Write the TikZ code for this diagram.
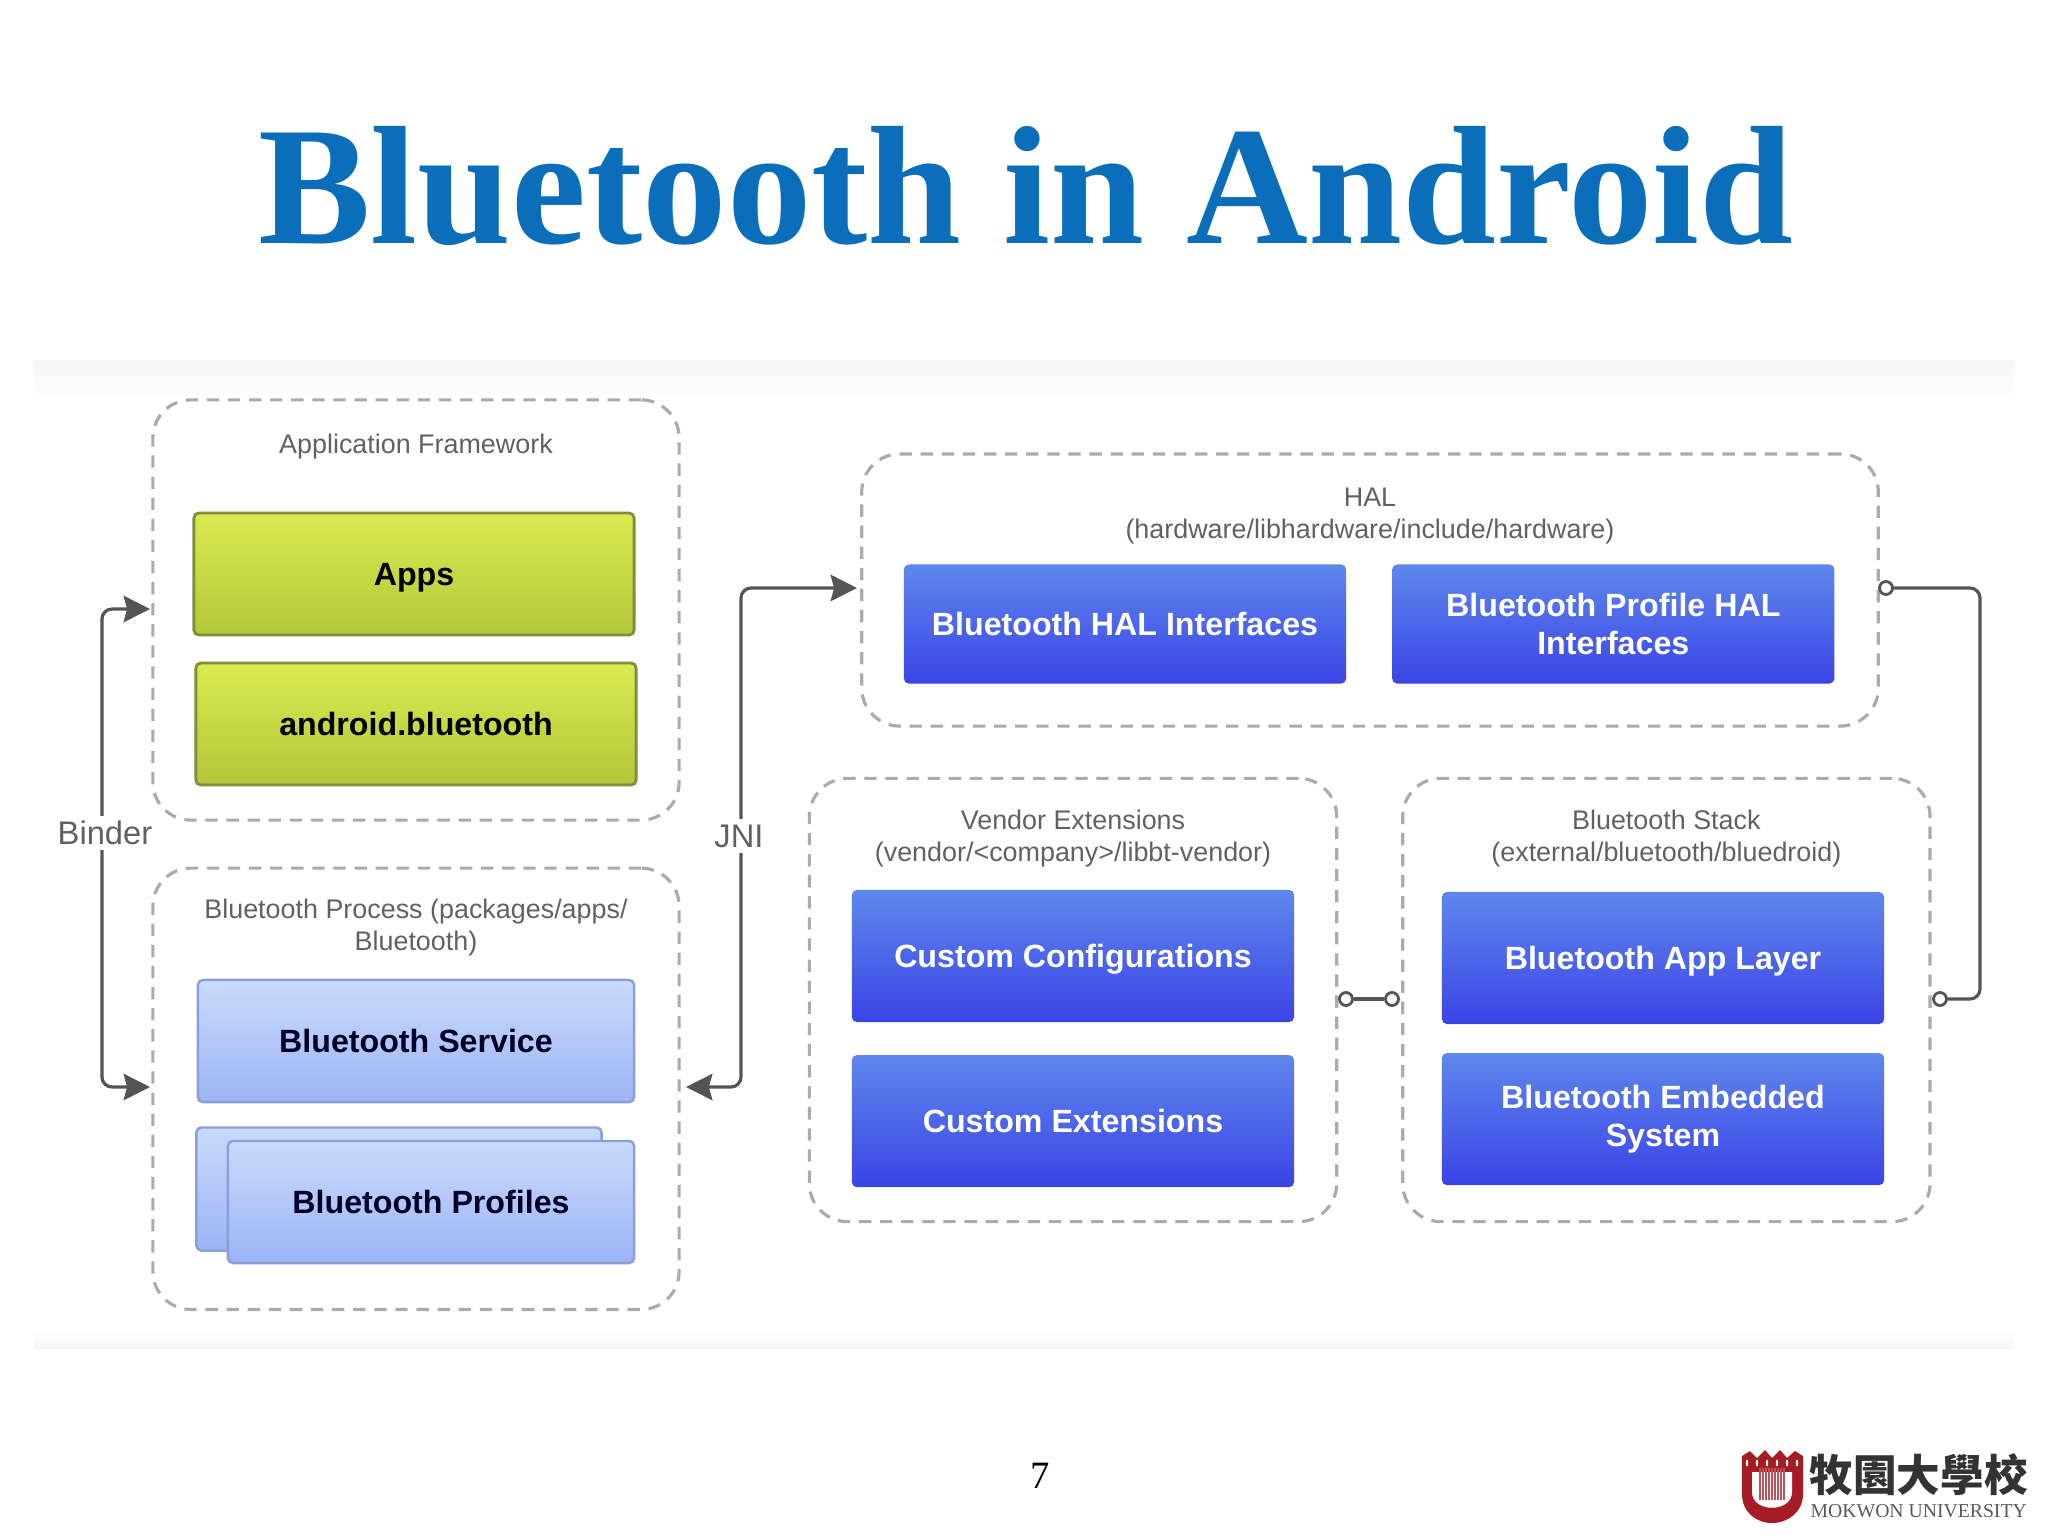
\documentclass[tikz,border=0pt]{standalone}
\usepackage{fontspec}
\setmainfont{Liberation Sans}
\newfontfamily\titlefont{Liberation Serif}
\newfontfamily\cjkfont{Noto Sans CJK TC}
\usepackage{tikz}
\usetikzlibrary{arrows.meta}
\usetikzlibrary{positioning}
\definecolor{titleblue}{HTML}{0A6EBB}
\definecolor{framegray}{HTML}{ABABAB}
\definecolor{linegray}{HTML}{555555}
\definecolor{paneback}{HTML}{F6F6F6}
\definecolor{logored}{HTML}{A51C24}
\definecolor{darkT}{HTML}{5F87EC}
\definecolor{darkB}{HTML}{3A44E6}
\definecolor{lightT}{HTML}{C8DBFB}
\definecolor{lightB}{HTML}{9DB4F6}
\definecolor{lightD}{HTML}{8C9FD8}
\definecolor{greenT}{HTML}{DBEA50}
\definecolor{greenB}{HTML}{B4C73A}
\definecolor{greenD}{HTML}{7F8F3A}
\tikzset{
    frame/.style={draw=framegray,dash pattern=on 3.5pt off 2.5pt,line width=0.9pt,rounded corners=0.38cm,inner sep=0,outer sep=0},
    frametext/.style={text=black!62,font=\fontsize{7.65}{9.2}\selectfont,align=center,inner sep=0,anchor=north},
    box/.style={rounded corners=0.05cm,inner sep=0,outer sep=0,font=\fontsize{9.15}{11}\selectfont\bfseries,align=center},
    darkblue/.style={box,minimum width=4.42cm,top color=darkT,bottom color=darkB,text=white},
    lightblue/.style={box,draw=lightD,line width=0.7pt,top color=lightT,bottom color=lightB,text=black!85!blue},
    greenbox/.style={box,draw=greenD,line width=0.8pt,minimum width=4.4cm,minimum height=1.22cm,top color=greenT,bottom color=greenB,text=black},
    conn/.style={draw=linegray,line width=0.9pt,rounded corners=0.1cm},
    pin/.style={circle,draw=linegray,line width=0.8pt,fill=white,minimum size=0.13cm,inner sep=0},
    sidetext/.style={text=black!62,fill=white,font=\fontsize{9.3}{10}\selectfont,inner sep=1.5pt},
}
\begin{document}
\begin{tikzpicture}[x=0.01cm,y=-0.01cm,>={Stealth[length=7.5pt,width=7.5pt,inset=1pt]}]
        \useasboundingbox (0,0) rectangle (2048,1536);
        \shade[top color=paneback,bottom color=white] (34,360) rectangle (2014,400);
        \shade[top color=white,bottom color=paneback] (34,1330) rectangle (2014,1348);
        % title
        \node [anchor=base] (title) at (1026,243) {\titlefont\fontsize{48}{48}\selectfont\bfseries\textcolor{titleblue}{Bluetooth in Android}};
        % frames
        \node [frame,minimum width=5.26cm,minimum height=4.2cm] (framework) at (416,610) {};
        \node [frame,minimum width=5.26cm,minimum height=4.41cm] (process) [below=0.48cm of framework] {};
        \node [frame,minimum width=10.16cm,minimum height=2.72cm] (hal) at (1370,590) {};
        \node [frame,minimum width=5.27cm,minimum height=4.43cm] (vendor) at (1073,1000) {};
        \node [frame,minimum width=5.27cm,minimum height=4.43cm] (stack) [right=0.66cm of vendor] {};
        % frame texts
        \node [frametext] (frameworktext) at ([yshift=-0.33cm]framework.north) {Application Framework};
        \node [frametext] (processtext) at ([yshift=-0.30cm]process.north) {Bluetooth Process (packages/apps/\\Bluetooth)};
        \node [frametext] (haltext) at ([yshift=-0.33cm]hal.north) {HAL\\(hardware/libhardware/include/hardware)};
        \node [frametext] (vendortext) at ([yshift=-0.31cm]vendor.north) {Vendor Extensions\\(vendor/<company>/libbt-vendor)};
        \node [frametext] (stacktext) at ([yshift=-0.31cm]stack.north) {Bluetooth Stack\\(external/bluetooth/bluedroid)};
        % application framework
        \node [greenbox,text depth=0pt] (apps) at (414,574) {Apps};
        \node [greenbox] (androidbt) at (416,724) {android.bluetooth};
        % bluetooth process
        \node [lightblue,minimum width=4.36cm,minimum height=1.22cm] (service) at (416,1041) {Bluetooth Service};
        \node [lightblue,minimum width=4.05cm,minimum height=1.23cm] (profileback) at (399,1189) {};
        \node [lightblue,minimum width=4.06cm,minimum height=1.22cm] (profiles) at (431,1202) {Bluetooth Profiles};
        % hal
        \node [darkblue,minimum height=1.19cm] (halif) at (1125,624) {Bluetooth HAL Interfaces};
        \node [darkblue,minimum height=1.19cm] (profileif) [right=0.46cm of halif] {Bluetooth Profile HAL\\Interfaces};
        % vendor extensions
        \node [darkblue,minimum height=1.32cm,text depth=0pt] (config) at (1073,956) {Custom Configurations};
        \node [darkblue,minimum height=1.32cm] (extensions) [below=0.33cm of config] {Custom Extensions};
        % bluetooth stack
        \node [darkblue,minimum height=1.32cm,text depth=0pt] (applayer) at (1663,958) {Bluetooth App Layer};
        \node [darkblue,minimum height=1.32cm] (embedded) [below=0.29cm of applayer] {Bluetooth Embedded\\System};
        % connection points
        \coordinate (binderup) at (150,609);
        \coordinate (binderdown) at (150,1087);
        \coordinate (jniup) at (857,588);
        \coordinate (jnidown) at (686,1087);
        \node [pin] (halpin) at (1886,588) {};
        \node [pin] (stackpin) at (1940,999) {};
        \node [pin] (vendorpin) at (1346,999) {};
        \node [pin] (stackleftpin) at (1392,999) {};
        % connectors
        \draw [conn,<->] (binderup) -- (102,609) -- (102,1087) -- (binderdown);
        \draw [conn,<->] (jniup) -- (741,588) -- (741,1087) -- (jnidown);
        \draw [conn] (halpin) -- (1980,588) -- (1980,999) -- (stackpin);
        \draw [conn] (vendorpin) -- (stackleftpin);
        \node [sidetext] (binder) at (105,833) {Binder};
        \node [sidetext] (jni) at (739,836) {JNI};
        % footer
        \node (pagenumber) at (1040,1476) {\titlefont\fontsize{11}{13}\selectfont 7};
        % logo
        \fill[logored] (1742,1456) -- (1750,1451) -- (1757,1458) -- (1765,1450) -- (1772,1458) -- (1780,1450) -- (1787,1458) -- (1795,1451) -- (1803,1456) -- (1803,1494) .. controls (1803,1512) and (1788,1523) .. (1772,1523) .. controls (1756,1523) and (1742,1512) .. (1742,1494) -- cycle;
        \fill[white] (1752,1472) -- (1792,1472) -- (1792,1492) .. controls (1792,1513) and (1752,1513) .. (1752,1492) -- cycle;
        \foreach \xpos in {1747,1757,1767,1777,1787,1797}
            \fill[white] (\xpos,1463) ellipse (0.012cm and 0.035cm);
        \foreach \xpos in {1760,1763,...,1784}
            \draw[logored!75,line width=0.45pt] (\xpos,1468) -- (\xpos,1500);
        \node [inner sep=0,anchor=west] (logoname) at (1809,1475) {\cjkfont\fontsize{12.4}{13}\selectfont\bfseries\textcolor{black!80}{牧園大學校}};
        \node [inner sep=0,anchor=west] (logoenglish) at (1810,1511) {\titlefont\fontsize{5.6}{7}\selectfont\textcolor{black!65}{MOKWON UNIVERSITY}};
    \end{tikzpicture}
\end{document}
